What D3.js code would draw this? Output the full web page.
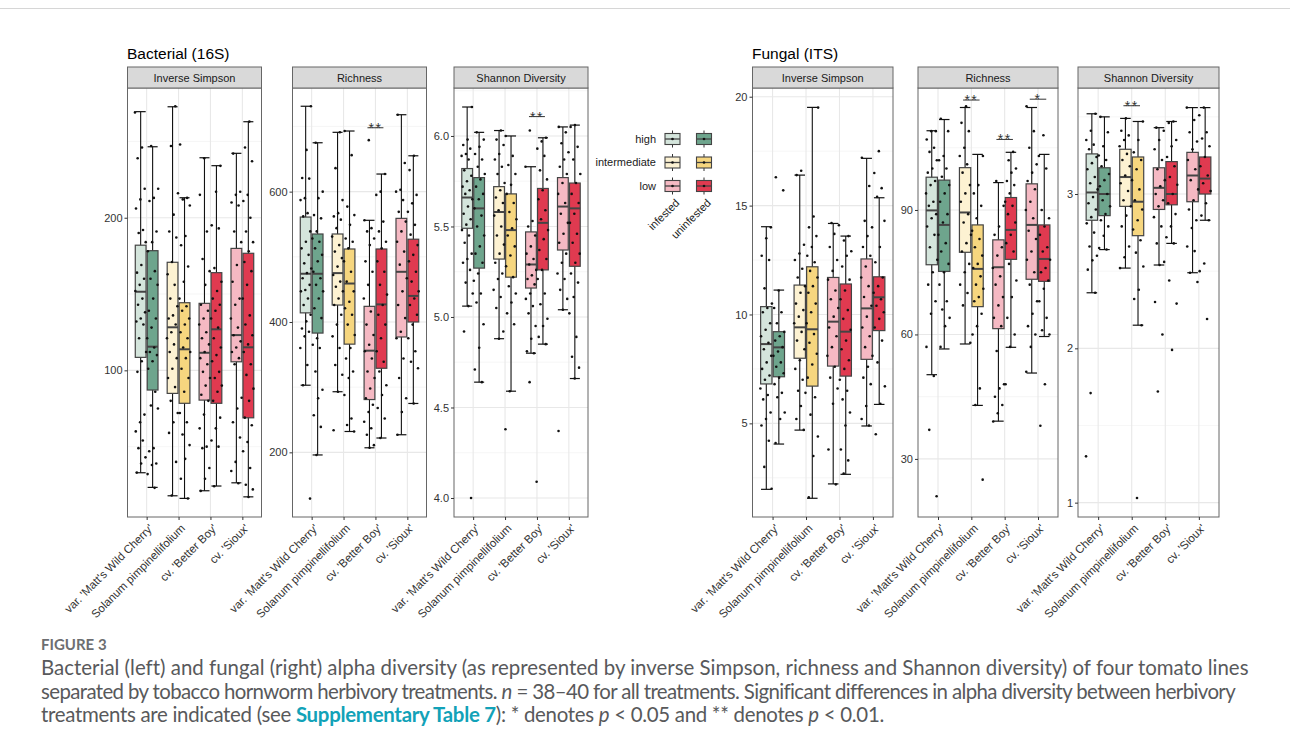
<!DOCTYPE html>
<html>
<head>
<meta charset="utf-8">
<script src="https://cdn.jsdelivr.net/npm/d3@7/dist/d3.min.js"></script>
<style>
body { margin: 0; background: #fff; }
svg { display: block; }
</style>
</head>
<body>
<script>
var width = 1290,
    height = 752;

// categories
var lines = ["var. 'Matt's Wild Cherry'", "Solanum pimpinellifolium", "cv. 'Better Boy'", "cv. 'Sioux'"];
var lineLevel = ["high", "intermediate", "low", "low"];
var treatments = ["infested", "uninfested"];
var levels = ["high", "intermediate", "low"];
var levelColors = {
    high: ["#d4e5dc", "#6ea58d"],
    intermediate: ["#fdf2d2", "#f6d67f"],
    low: ["#f5b9c3", "#e03a50"]
};

// box stats [lower whisker, q1, median, q3, upper whisker]
// order: Matt inf, Matt uninf, Solanum inf, Solanum uninf, Better Boy inf, Better Boy uninf, Sioux inf, Sioux uninf
var bacSimpsonStats = [[32.9, 108.5, 151.5, 182, 269.5], [23.3, 87.1, 115.5, 178.4, 246.5],
    [17.8, 84.9, 128.2, 170.8, 272.7], [16.1, 78.4, 113.8, 144.3, 213.1],
    [21.1, 80.5, 111.5, 143.9, 239.3], [24.2, 78.4, 126.9, 164, 234.1],
    [26.3, 105.6, 123.1, 179.9, 242.2], [17.1, 68.9, 115.1, 176.7, 262.9]];
var bacSimpsonPts = [
    [269, 246, 239, 219, 212, 206, 192, 190, 184, 169, 164, 160, 156, 152, 147, 143, 138, 134, 132, 130, 121, 112, 106, 99, 71, 66, 60, 54, 49, 43, 39, 33],
    [247, 219, 213, 211, 191, 184, 178, 165, 160, 156, 147, 139, 134, 128, 121, 115, 112, 110, 106, 101, 86, 77, 75, 49, 47, 39, 38, 32, 23],
    [273, 247, 216, 202, 191, 187, 171, 163, 156, 147, 142, 136, 134, 130, 125, 121, 117, 112, 108, 101, 95, 89, 80, 72, 66, 59, 40, 18],
    [248, 213, 212, 208, 188, 182, 168, 158, 147, 142, 139, 134, 130, 125, 121, 115, 112, 108, 101, 95, 86, 72, 66, 58, 51, 42, 29, 16],
    [239, 215, 191, 173, 165, 156, 143, 139, 134, 130, 125, 121, 117, 112, 108, 104, 99, 95, 90, 84, 80, 71, 62, 50, 49, 36, 29, 21],
    [234, 217, 195, 193, 167, 158, 152, 147, 143, 139, 134, 128, 121, 115, 110, 106, 99, 95, 90, 86, 80, 69, 62, 54, 50, 24],
    [242, 217, 215, 210, 208, 191, 184, 169, 158, 147, 143, 134, 128, 123, 119, 115, 112, 108, 104, 82, 75, 66, 56, 40, 34, 26],
    [263, 246, 237, 215, 211, 200, 191, 184, 178, 171, 165, 156, 147, 136, 130, 123, 117, 112, 104, 97, 88, 80, 69, 64, 53, 47, 36, 25, 22, 17]];

var bacRichStats = [[303, 414, 474, 561, 731], [196, 383, 474, 535, 675],
    [293, 426, 475, 535, 691], [232, 366, 459, 512, 693],
    [207, 281, 356, 424, 556], [222, 329, 427, 512, 627],
    [227, 377, 477, 559, 718], [275, 400, 440, 527, 655]];
var bacRichPts = [
    [731, 664, 621, 620, 590, 587, 567, 562, 539, 523, 513, 503, 490, 482, 475, 467, 457, 449, 447, 436, 426, 411, 401, 390, 385, 378, 360, 334, 303, 129],
    [675, 600, 590, 564, 559, 539, 528, 523, 513, 503, 493, 477, 467, 457, 447, 436, 421, 406, 375, 365, 360, 324, 296, 283, 257, 239, 196],
    [691, 636, 587, 567, 562, 557, 544, 531, 518, 508, 498, 485, 472, 462, 454, 447, 436, 426, 411, 396, 378, 360, 334, 319, 293, 234],
    [693, 656, 577, 564, 549, 528, 523, 513, 493, 477, 462, 447, 431, 421, 411, 396, 380, 360, 344, 324, 314, 288, 252, 242, 232],
    [679, 556, 544, 539, 528, 518, 493, 477, 457, 436, 416, 396, 380, 365, 355, 344, 324, 314, 298, 283, 273, 262, 247, 237, 227, 211, 207],
    [627, 600, 595, 554, 539, 523, 513, 493, 477, 457, 442, 426, 411, 396, 375, 355, 339, 324, 303, 288, 268, 252, 222],
    [718, 644, 603, 600, 587, 569, 554, 539, 523, 508, 488, 467, 447, 426, 406, 385, 375, 344, 314, 283, 262, 227],
    [655, 633, 595, 582, 569, 549, 534, 518, 503, 493, 477, 462, 447, 436, 426, 411, 396, 375, 355, 339, 329, 275]];

var bacShanStats = [[5.06, 5.49, 5.66, 5.82, 6.16], [4.64, 5.27, 5.60, 5.77, 6.02],
    [4.88, 5.32, 5.58, 5.72, 6.03], [4.59, 5.22, 5.48, 5.68, 6.00],
    [4.80, 5.16, 5.29, 5.47, 5.83], [4.85, 5.26, 5.52, 5.71, 5.99],
    [5.04, 5.37, 5.61, 5.77, 6.05], [4.66, 5.28, 5.60, 5.74, 6.06]];
var bacShanPts = [
    [6.16, 5.98, 5.95, 5.93, 5.90, 5.89, 5.87, 5.81, 5.78, 5.75, 5.72, 5.70, 5.68, 5.65, 5.61, 5.57, 5.54, 5.51, 5.48, 5.45, 5.41, 5.35, 5.32, 5.30, 5.26, 5.19, 5.13, 5.06, 4.92, 4.00],
    [6.02, 5.98, 5.94, 5.90, 5.87, 5.83, 5.79, 5.76, 5.72, 5.68, 5.65, 5.60, 5.56, 5.50, 5.45, 5.39, 5.35, 5.30, 5.24, 5.20, 5.13, 5.08, 4.96, 4.83, 4.71, 4.64],
    [6.03, 5.98, 5.95, 5.90, 5.87, 5.83, 5.79, 5.74, 5.70, 5.66, 5.63, 5.59, 5.56, 5.50, 5.45, 5.40, 5.35, 5.30, 5.24, 5.21, 5.15, 5.11, 5.05, 4.92, 4.88],
    [6.00, 5.89, 5.84, 5.79, 5.73, 5.68, 5.63, 5.58, 5.54, 5.49, 5.45, 5.39, 5.34, 5.28, 5.22, 5.17, 5.13, 5.08, 5.02, 4.96, 4.59, 4.38],
    [6.03, 5.83, 5.53, 5.50, 5.45, 5.39, 5.35, 5.32, 5.29, 5.26, 5.23, 5.21, 5.18, 5.13, 5.10, 5.06, 5.02, 4.95, 4.88, 4.81, 4.80, 4.64, 4.09],
    [5.99, 5.97, 5.93, 5.89, 5.81, 5.76, 5.70, 5.65, 5.59, 5.54, 5.48, 5.43, 5.37, 5.32, 5.26, 5.21, 5.13, 5.07, 4.99, 4.95, 4.89, 4.85],
    [6.05, 6.02, 5.96, 5.91, 5.87, 5.83, 5.79, 5.74, 5.68, 5.63, 5.57, 5.52, 5.46, 5.41, 5.35, 5.30, 5.24, 5.21, 5.15, 5.10, 5.04, 4.37],
    [6.06, 6.05, 5.94, 5.87, 5.79, 5.74, 5.68, 5.63, 5.57, 5.52, 5.46, 5.41, 5.35, 5.30, 5.24, 5.19, 5.11, 5.02, 4.89, 4.78, 4.72, 4.66]];

var funSimpsonStats = [[1.97, 6.81, 8.64, 10.36, 14.03], [4.05, 7.14, 8.49, 9.21, 11.12],
    [4.69, 7.99, 9.41, 11.35, 16.40], [1.56, 6.71, 9.32, 12.19, 19.51],
    [2.22, 7.63, 9.67, 11.70, 14.18], [2.66, 7.17, 9.21, 11.40, 13.60],
    [4.88, 7.94, 10.28, 12.55, 17.17], [5.87, 9.26, 10.79, 11.73, 15.36]];
var funSimpsonPts = [
    [14.0, 13.5, 12.7, 12.5, 11.2, 10.5, 10.3, 10.1, 9.6, 9.3, 9.0, 8.7, 8.4, 8.1, 7.8, 7.5, 7.2, 7.0, 6.6, 6.3, 6.1, 5.5, 5.2, 4.9, 4.2, 3.0, 2.0],
    [16.3, 15.7, 11.1, 10.3, 10.1, 9.6, 9.2, 9.0, 8.8, 8.5, 8.3, 8.1, 7.8, 7.6, 7.3, 7.1, 6.8, 6.4, 6.2, 5.5, 5.2, 4.1],
    [16.6, 16.4, 13.2, 12.8, 12.5, 12.1, 11.7, 11.3, 11.0, 10.5, 10.2, 9.9, 9.6, 9.2, 8.8, 8.4, 7.9, 7.5, 7.0, 6.5, 6.4, 5.8, 5.2, 4.7],
    [19.5, 14.5, 14.0, 13.6, 13.1, 12.7, 12.4, 12.0, 11.7, 11.3, 11.0, 10.5, 10.1, 9.6, 9.1, 8.7, 8.2, 7.7, 7.1, 6.2, 5.4, 4.4, 3.5, 1.6],
    [14.2, 14.1, 13.7, 13.1, 12.5, 12.0, 11.6, 11.1, 10.7, 10.3, 9.9, 9.4, 9.0, 8.5, 8.1, 7.6, 7.1, 6.6, 5.9, 3.8, 2.2],
    [13.6, 13.4, 12.9, 12.7, 12.2, 11.6, 11.1, 10.7, 10.2, 9.8, 9.3, 8.8, 8.4, 7.9, 7.5, 7.0, 6.5, 6.1, 5.5, 4.9, 3.8, 3.3, 2.7],
    [17.2, 15.9, 14.3, 14.0, 13.6, 13.1, 12.7, 12.2, 11.7, 11.3, 10.8, 10.4, 9.9, 9.4, 9.0, 8.5, 8.1, 7.6, 7.1, 6.8, 5.8, 5.2, 4.9],
    [17.5, 16.5, 15.8, 15.4, 14.3, 13.1, 12.4, 11.7, 11.3, 11.0, 10.7, 10.4, 10.1, 9.8, 9.4, 8.8, 7.8, 6.7, 5.9, 4.5]];

var funRichStats = [[50.3, 76.8, 89.9, 97.9, 109.1], [56.5, 75.2, 86.4, 97.2, 111.8],
    [57.7, 79.8, 89.4, 100.2, 114.7], [42.9, 66.7, 75.8, 86.4, 103.4],
    [39.1, 61.4, 76.2, 82.8, 96.6], [56.9, 78.1, 85.2, 93.0, 103.9],
    [50.7, 73.3, 86.4, 96.3, 114.7], [59.5, 72.8, 78.2, 86.4, 103.4]];
var funRichPts = [
    [109, 109, 107, 105, 104, 102, 100, 99, 97, 96, 94, 92, 91, 89, 88, 86, 84, 81, 78, 75, 72, 68, 65, 57, 50, 37, 21],
    [112, 109, 103, 102, 100, 98, 96, 94, 92, 89, 87, 84, 82, 80, 77, 75, 72, 68, 66, 64, 62, 57],
    [115, 111, 109, 105, 103, 101, 99, 96, 94, 92, 89, 87, 84, 82, 80, 77, 75, 72, 70, 67, 58],
    [103, 96, 94, 91, 88, 85, 83, 81, 79, 77, 76, 74, 72, 71, 69, 68, 65, 62, 60, 47, 43, 25],
    [97, 91, 86, 84, 81, 79, 76, 74, 72, 69, 67, 64, 62, 56, 48, 47, 45, 43, 41, 39],
    [104, 102, 100, 99, 97, 96, 94, 92, 91, 89, 87, 84, 82, 80, 77, 73, 69, 64, 60, 57, 48],
    [115, 109, 105, 101, 99, 97, 95, 92, 90, 88, 85, 83, 80, 78, 75, 72, 68, 65, 62, 60, 57, 51],
    [108, 103, 100, 90, 88, 86, 84, 81, 80, 78, 76, 75, 73, 71, 68, 64, 61, 60, 48, 38]];

var funShanStats = [[2.36, 2.83, 3.01, 3.26, 3.52], [2.64, 2.86, 3.00, 3.17, 3.50],
    [2.52, 2.92, 3.11, 3.29, 3.49], [2.15, 2.73, 2.95, 3.24, 3.47],
    [2.54, 2.90, 3.04, 3.17, 3.43], [2.68, 2.93, 3.00, 3.21, 3.47],
    [2.49, 2.95, 3.12, 3.27, 3.56], [2.83, 3.00, 3.10, 3.24, 3.56]];
var funShanPts = [
    [3.52, 3.41, 3.35, 3.32, 3.29, 3.24, 3.20, 3.16, 3.11, 3.07, 3.03, 2.98, 2.94, 2.90, 2.85, 2.81, 2.75, 2.66, 2.60, 2.57, 2.51, 2.36, 1.71, 1.30],
    [3.50, 3.40, 3.31, 3.25, 3.22, 3.18, 3.13, 3.09, 3.05, 3.00, 2.96, 2.92, 2.87, 2.83, 2.79, 2.73, 2.65, 2.64],
    [3.49, 3.41, 3.38, 3.35, 3.31, 3.26, 3.22, 3.18, 3.12, 3.07, 3.02, 2.96, 2.92, 2.86, 2.79, 2.66, 2.59, 2.52],
    [3.47, 3.35, 3.27, 3.22, 3.16, 3.09, 3.03, 2.96, 2.90, 2.83, 2.77, 2.70, 2.62, 2.53, 2.38, 2.32, 2.15, 1.03],
    [3.43, 3.41, 3.35, 3.29, 3.22, 3.16, 3.09, 3.05, 3.00, 2.96, 2.92, 2.85, 2.79, 2.68, 2.56, 2.54, 2.30, 2.09, 1.72],
    [3.47, 3.46, 3.35, 3.31, 3.24, 3.18, 3.11, 3.06, 3.00, 2.94, 2.87, 2.79, 2.72, 2.68, 2.44, 2.29, 1.99],
    [3.56, 3.48, 3.40, 3.34, 3.29, 3.22, 3.16, 3.09, 3.03, 2.96, 2.90, 2.83, 2.78, 2.66, 2.63, 2.49, 2.43],
    [3.56, 3.51, 3.40, 3.36, 3.31, 3.24, 3.18, 3.12, 3.07, 3.02, 2.94, 2.86, 2.83, 2.55, 2.50, 2.19]];

// y axis limits, ticks and minor gridlines
var bacSimpsonLimits = [3.9, 285], bacSimpsonTicks = [100, 200], bacSimpsonMinor = [50, 150, 250];
var bacRichLimits = [100.8, 759], bacRichTicks = [200, 400, 600], bacRichMinor = [300, 500, 700];
var bacShanLimits = [3.895, 6.265], bacShanTicks = [4.0, 4.5, 5.0, 5.5, 6.0], bacShanMinor = [4.25, 4.75, 5.25, 5.75, 6.25];
var funSimpsonLimits = [0.7, 20.4], funSimpsonTicks = [5, 10, 15, 20], funSimpsonMinor = [2.5, 7.5, 12.5, 17.5];
var funRichLimits = [16, 119.4], funRichTicks = [30, 60, 90], funRichMinor = [45, 75, 105];
var funShanLimits = [0.907, 3.687], funShanTicks = [1, 2, 3], funShanMinor = [1.5, 2.5, 3.5];

// significance marks [category index, label, y]
var bacRichSig = [[2, "**", 698]];
var bacShanSig = [[2, "**", 6.107]];
var funRichSig = [[1, "**", 116.5], [2, "**", 107], [3, "*", 116.7]];
var funShanSig = [[1, "**", 3.572]];

var panelTop = 88, panelBottom = 517, stripTop = 67;
var font = '"Liberation Sans", Arial, Helvetica, sans-serif';
var axisSize = 11;

var panels = [
    {x0: 127.5, x1: 261.5, title: "Inverse Simpson", stats: bacSimpsonStats, pts: bacSimpsonPts, lim: bacSimpsonLimits, ticks: bacSimpsonTicks, minor: bacSimpsonMinor, sig: [], fmt: d3.format("d")},
    {x0: 292.5, x1: 426.5, title: "Richness", stats: bacRichStats, pts: bacRichPts, lim: bacRichLimits, ticks: bacRichTicks, minor: bacRichMinor, sig: bacRichSig, fmt: d3.format("d")},
    {x0: 454, x1: 588, title: "Shannon Diversity", stats: bacShanStats, pts: bacShanPts, lim: bacShanLimits, ticks: bacShanTicks, minor: bacShanMinor, sig: bacShanSig, fmt: d3.format(".1f")},
    {x0: 752.5, x1: 893, title: "Inverse Simpson", stats: funSimpsonStats, pts: funSimpsonPts, lim: funSimpsonLimits, ticks: funSimpsonTicks, minor: funSimpsonMinor, sig: [], fmt: d3.format("d")},
    {x0: 918, x1: 1058, title: "Richness", stats: funRichStats, pts: funRichPts, lim: funRichLimits, ticks: funRichTicks, minor: funRichMinor, sig: funRichSig, fmt: d3.format("d")},
    {x0: 1078, x1: 1219, title: "Shannon Diversity", stats: funShanStats, pts: funShanPts, lim: funShanLimits, ticks: funShanTicks, minor: funShanMinor, sig: funShanSig, fmt: d3.format("d")}
];

var svg = d3.select('body')
    .append('svg')
    .attr('width', width)
    .attr('height', height)
    .style('font-family', font);

svg.append('line')
    .attr('x1', 0).attr('x2', width)
    .attr('y1', 8.5).attr('y2', 8.5)
    .attr('stroke', '#d6d6d6');

svg.append('text').attr('x', 127).attr('y', 58.5).attr('font-size', 15.5).attr('fill', '#000').text('Bacterial (16S)');
svg.append('text').attr('x', 752).attr('y', 58.5).attr('font-size', 15.5).attr('fill', '#000').text('Fungal (ITS)');

// golden ratio spread for jitter (position only)
function jitter(i, k) {
    var v = (i * 0.6180339887 + k * 0.37) % 1;
    return v - 0.5;
}

panels.forEach(function(p, pi) {
    var g = svg.append('g');
    var x = d3.scalePoint().domain(lines).range([p.x0, p.x1]).padding(0.6);
    var y = d3.scaleLinear().domain(p.lim).range([panelBottom, panelTop]);
    var bw = x.step() * 0.375;

    g.append('rect')
        .attr('x', p.x0).attr('y', panelTop)
        .attr('width', p.x1 - p.x0).attr('height', panelBottom - panelTop)
        .attr('fill', '#fff');

    g.selectAll('line.minor')
        .data(p.minor).enter()
        .append('line')
        .attr('x1', p.x0).attr('x2', p.x1)
        .attr('y1', (d) => y(d)).attr('y2', (d) => y(d))
        .attr('stroke', '#f2f2f2').attr('stroke-width', 0.7);

    g.selectAll('line.major')
        .data(p.ticks).enter()
        .append('line')
        .attr('x1', p.x0).attr('x2', p.x1)
        .attr('y1', (d) => y(d)).attr('y2', (d) => y(d))
        .attr('stroke', '#e8e8e8').attr('stroke-width', 1.1);

    g.selectAll('line.vgrid')
        .data(lines).enter()
        .append('line')
        .attr('x1', (d) => x(d)).attr('x2', (d) => x(d))
        .attr('y1', panelTop).attr('y2', panelBottom)
        .attr('stroke', '#e8e8e8').attr('stroke-width', 1.1);

    var boxes = [];
    lines.forEach(function(l, li) {
        treatments.forEach(function(t, ti) {
            boxes.push({line: l, li: li, ti: ti, s: p.stats[li * 2 + ti], pts: p.pts[li * 2 + ti],
                color: levelColors[lineLevel[li]][ti]});
        });
    });
    var cx = (d) => x(d.line) + (d.ti - 0.5) * bw;

    // error bars
    g.selectAll('line.wh')
        .data(boxes).enter()
        .append('line')
        .attr('x1', cx).attr('x2', cx)
        .attr('y1', (d) => y(d.s[0])).attr('y2', (d) => y(d.s[4]))
        .attr('stroke', '#111').attr('stroke-width', 1.1);
    [0, 4].forEach(function(k) {
        g.selectAll('line.cap' + k)
            .data(boxes).enter()
            .append('line')
            .attr('x1', (d) => cx(d) - bw * 0.42).attr('x2', (d) => cx(d) + bw * 0.42)
            .attr('y1', (d) => y(d.s[k])).attr('y2', (d) => y(d.s[k]))
            .attr('stroke', '#111').attr('stroke-width', 1.2);
    });

    g.selectAll('rect.box')
        .data(boxes).enter()
        .append('rect')
        .attr('x', (d) => cx(d) - bw / 2 + 0.6)
        .attr('width', bw - 1.2)
        .attr('y', (d) => y(d.s[3]))
        .attr('height', (d) => y(d.s[1]) - y(d.s[3]))
        .attr('fill', (d) => d.color)
        .attr('stroke', '#444').attr('stroke-width', 1.2);

    g.selectAll('line.med')
        .data(boxes).enter()
        .append('line')
        .attr('x1', (d) => cx(d) - bw / 2 + 0.6).attr('x2', (d) => cx(d) + bw / 2 - 0.6)
        .attr('y1', (d) => y(d.s[2])).attr('y2', (d) => y(d.s[2]))
        .attr('stroke', '#444').attr('stroke-width', 2);

    boxes.forEach(function(b, bi) {
        g.selectAll(null)
            .data(b.pts).enter()
            .append('circle')
            .attr('cx', (d, i) => cx(b) + jitter(i, bi + pi * 8) * bw * 0.95)
            .attr('cy', (d) => y(d))
            .attr('r', 1.3)
            .attr('fill', '#111');
    });

    // significance
    p.sig.forEach(function(s) {
        var xa = x(lines[s[0]]) - bw / 2 - 2, xb = x(lines[s[0]]) + bw / 2 + 2;
        g.append('line')
            .attr('x1', xa).attr('x2', xb)
            .attr('y1', y(s[2])).attr('y2', y(s[2]))
            .attr('stroke', '#333').attr('stroke-width', 1);
        g.append('text')
            .attr('x', (xa + xb) / 2).attr('y', y(s[2]) + 5)
            .attr('text-anchor', 'middle')
            .attr('font-size', 14).attr('letter-spacing', 1.5)
            .attr('fill', '#333')
            .text(s[1]);
    });

    g.append('rect')
        .attr('x', p.x0).attr('y', panelTop)
        .attr('width', p.x1 - p.x0).attr('height', panelBottom - panelTop)
        .attr('fill', 'none').attr('stroke', '#666').attr('stroke-width', 1);

    g.append('rect')
        .attr('x', p.x0).attr('y', stripTop)
        .attr('width', p.x1 - p.x0).attr('height', panelTop - stripTop)
        .attr('fill', '#d9d9d9').attr('stroke', '#666').attr('stroke-width', 1);
    g.append('text')
        .attr('x', (p.x0 + p.x1) / 2).attr('y', (stripTop + panelTop) / 2 + 4)
        .attr('text-anchor', 'middle')
        .attr('font-size', axisSize).attr('fill', '#1a1a1a')
        .text(p.title);

    var yAxis = d3.axisLeft(y).tickValues(p.ticks).tickSize(3).tickPadding(2).tickFormat(p.fmt);
    var ya = g.append('g')
        .attr('transform', 'translate(' + p.x0 + ',0)')
        .call(yAxis);
    ya.select('.domain').remove();
    ya.selectAll('line').attr('stroke', '#333');
    ya.selectAll('text').attr('font-size', axisSize).attr('font-family', font).attr('fill', '#333');

    var xAxis = d3.axisBottom(x).tickSize(3).tickPadding(2);
    var xa = g.append('g')
        .attr('transform', 'translate(0,' + panelBottom + ')')
        .call(xAxis);
    xa.select('.domain').remove();
    xa.selectAll('line').attr('stroke', '#333');
    xa.selectAll('text')
        .attr('font-size', 11.5).attr('font-family', font).attr('fill', '#333')
        .attr('text-anchor', 'end')
        .attr('y', 0).attr('dy', '0.72em')
        .attr('transform', 'translate(1,6) rotate(-45)');
});

// legend
var legRowY = [139, 162.5, 186];
var legKeyX = [672.5, 704];
var leg = svg.append('g');
levels.forEach(function(lv, li) {
    leg.append('text')
        .attr('x', 656).attr('y', legRowY[li] + 3.8)
        .attr('text-anchor', 'end')
        .attr('font-size', axisSize).attr('fill', '#1a1a1a')
        .text(lv);
    treatments.forEach(function(t, ti) {
        var kx = legKeyX[ti], ky = legRowY[li];
        leg.append('line')
            .attr('x1', kx).attr('x2', kx).attr('y1', ky - 8.5).attr('y2', ky + 8.5)
            .attr('stroke', '#333').attr('stroke-width', 1);
        leg.append('rect')
            .attr('x', kx - 7.5).attr('y', ky - 5.5)
            .attr('width', 15).attr('height', 11)
            .attr('fill', levelColors[lv][ti])
            .attr('stroke', '#444').attr('stroke-width', 1.1);
        leg.append('line')
            .attr('x1', kx - 7.5).attr('x2', kx + 7.5).attr('y1', ky).attr('y2', ky)
            .attr('stroke', '#444').attr('stroke-width', 1.3);
        leg.append('circle').attr('cx', kx).attr('cy', ky).attr('r', 1.3).attr('fill', '#111');
    });
});
treatments.forEach(function(t, ti) {
    leg.append('text')
        .attr('text-anchor', 'end')
        .attr('font-size', axisSize).attr('fill', '#1a1a1a')
        .attr('dy', '0.72em')
        .attr('transform', 'translate(' + (legKeyX[ti] + 2) + ',198) rotate(-45)')
        .text(t);
});

// caption
var capFont = 'Lato, "Open Sans", "Noto Sans", sans-serif';
svg.append('text')
    .attr('x', 41).attr('y', 650)
    .attr('font-family', capFont).attr('font-size', 15).attr('font-weight', 700)
    .attr('fill', '#6d6e71')
    .text('FIGURE 3');

var capLines = [
    [["Bacterial (left) and fungal (right) alpha diversity (as represented by inverse Simpson, richness and Shannon diversity) of four tomato lines", ""]],
    [["separated by tobacco hornworm herbivory treatments. ", ""], ["n", "i"], [" = 38\u201340 for all treatments. Significant differences in alpha diversity between herbivory", ""]],
    [["treatments are indicated (see ", ""], ["Supplementary Table 7", "b"], ["): * denotes ", ""], ["p", "i"], [" < 0.05 and ** denotes ", ""], ["p", "i"], [" < 0.01.", ""]]
];
var capY = [675, 698.5, 722];
var capWidths = [1207, 1193, 843];
var capTexts = capLines.map(function(parts, k) {
    var t = svg.append('text')
        .attr('x', 41).attr('y', capY[k])
        .attr('font-family', capFont).attr('font-size', 17)
        .attr('fill', '#58595b')
        .style('white-space', 'pre');
    parts.forEach(function(pt) {
        var s = t.append('tspan').text(pt[0]);
        if (pt[1] === 'i') s.attr('font-style', 'italic');
        if (pt[1] === 'b') s.attr('font-weight', 700).attr('fill', '#12a2b8');
    });
    return t;
});
var w1 = capTexts[0].node().getComputedTextLength();
var fs = 17 * capWidths[0] / w1;
capTexts.forEach(function(t, k) {
    t.attr('font-size', fs);
    var w = t.node().getComputedTextLength();
    var n = t.text().length;
    t.attr('letter-spacing', (capWidths[k] - w) / n);
});
</script>
</body>
</html>
